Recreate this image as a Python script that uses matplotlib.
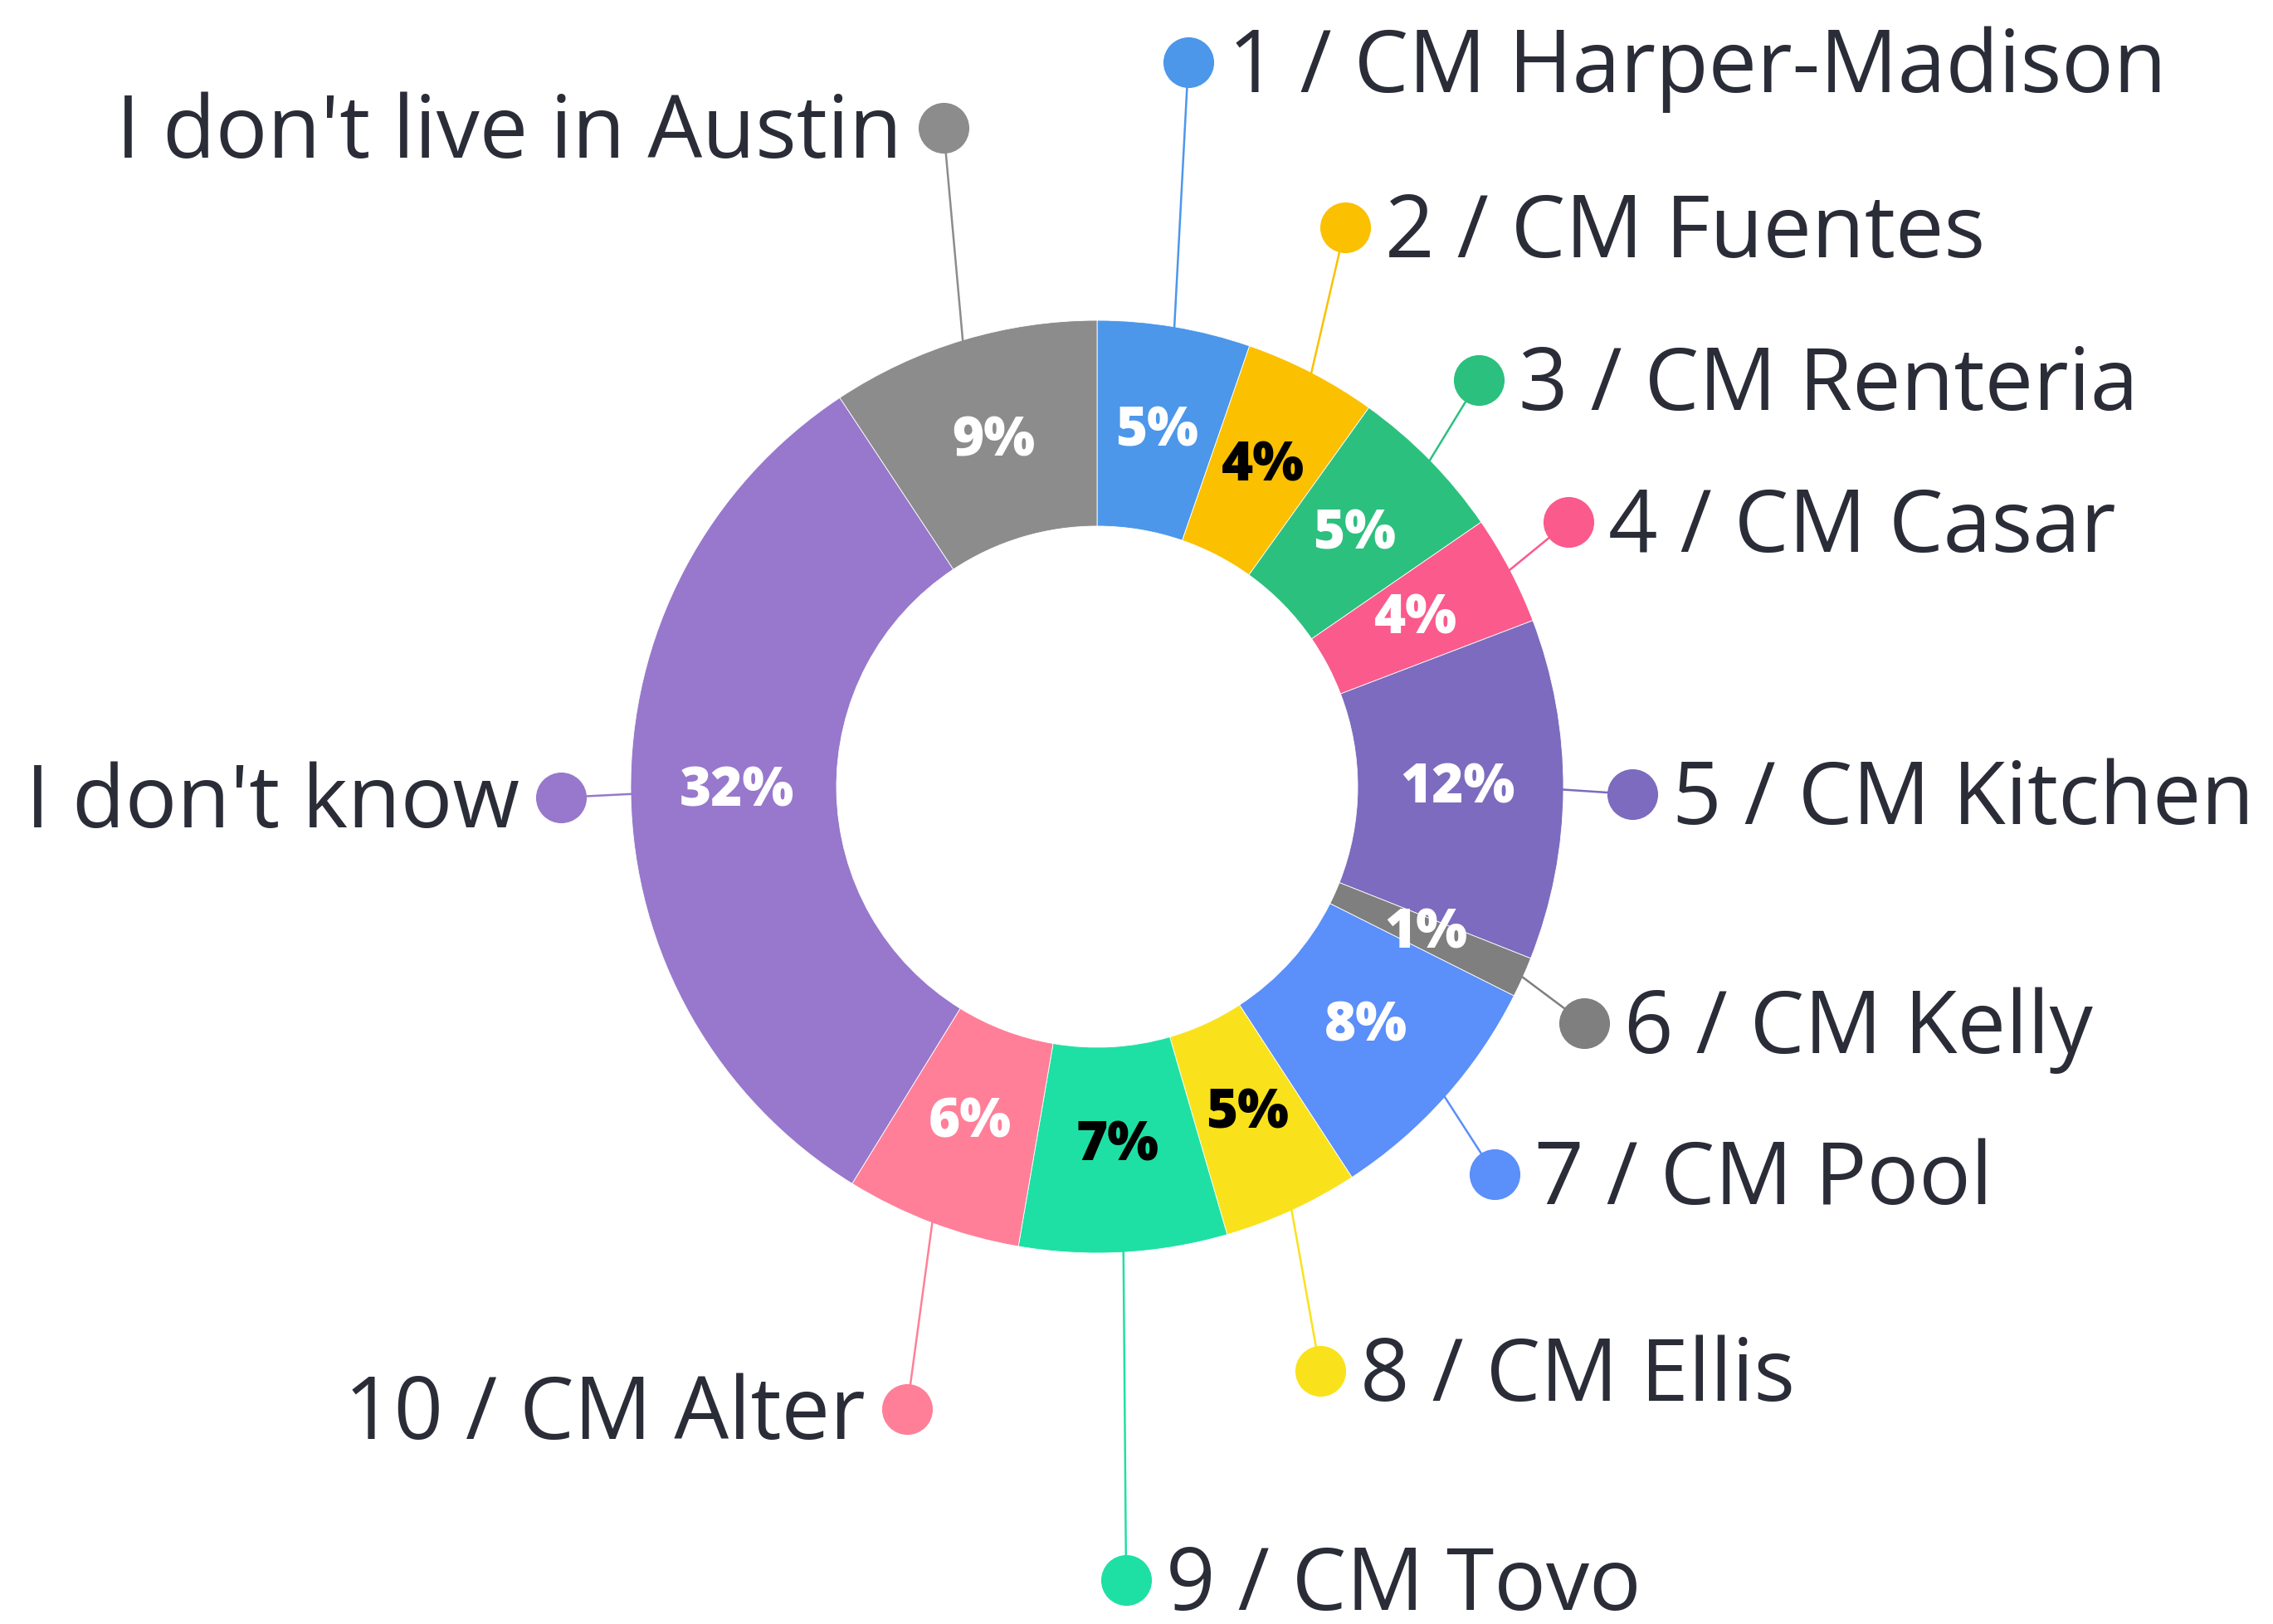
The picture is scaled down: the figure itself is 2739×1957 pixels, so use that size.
import numpy as np
import matplotlib
matplotlib.use("Agg")
import matplotlib.pyplot as plt

# slice data, clockwise from 12 o'clock
labels = ["1 / CM Harper-Madison", "2 / CM Fuentes", "3 / CM Renteria",
          "4 / CM Casar", "5 / CM Kitchen", "6 / CM Kelly", "7 / CM Pool",
          "8 / CM Ellis", "9 / CM Tovo", "10 / CM Alter", "I don't know",
          "I don't live in Austin"]
shares = [5.3, 4.6, 5.5, 3.8, 11.8, 1.4, 8.4, 4.7, 7.2, 6.1, 31.9, 9.3]
pct_labels = ["5%", "4%", "5%", "4%", "12%", "1%", "8%", "5%", "7%", "6%",
              "32%", "9%"]
colors = ["#4C97EA", "#FBC000", "#2CC07E", "#FA5A8C", "#7D6BBF", "#7F7F7F",
          "#5B8FF9", "#F9E21B", "#1FE0A4", "#FF7F98", "#9778CC", "#8C8C8C"]
pct_colors = ["white", "black", "white", "white", "white", "white", "white",
              "black", "black", "white", "white", "white"]

W, H = 2739, 1957
CX, CY = 1322, 948          # donut centre, pixels from top-left
R_OUT, R_IN = 562, 314

# label dot positions (pixels from top-left) and which side the text goes
dots = [(1432, 75), (1621, 274), (1782, 458), (1890, 629), (1967, 957),
        (1909, 1233), (1801, 1415), (1591, 1652), (1357, 1904), (1093, 1698),
        (676, 961), (1137, 154)]
sides = ["r"] * 9 + ["l"] * 3

TXT = "#2A2D37"
FONT = "Open Sans"


def fy(y):
    return H - y


fig = plt.figure(figsize=(W / 100, H / 100), dpi=100)
ax = fig.add_axes([0, 0, 1, 1])

wedges, _ = ax.pie(shares, colors=colors, startangle=90, counterclock=False,
                   center=(CX, fy(CY)), radius=R_OUT, frame=True,
                   wedgeprops=dict(width=R_OUT - R_IN, edgecolor="white",
                                   linewidth=0.6))
ax.set_xlim(0, W)
ax.set_ylim(0, H)
ax.set_aspect("equal")
ax.axis("off")

r_mid = (R_OUT + R_IN) / 2 - 4
for w, lab, pct, pc, (dx, dy), side, col in zip(wedges, labels, pct_labels,
                                                 pct_colors, dots, sides, colors):
    ang = np.radians((w.theta1 + w.theta2) / 2)
    # percent inside ring
    ax.text(CX + r_mid * np.cos(ang), fy(CY) + r_mid * np.sin(ang), pct,
            color=pc, fontsize=47, fontweight="heavy", family=FONT,
            ha="center", va="center")
    # leader line from outer edge to the dot
    x0 = CX + R_OUT * np.cos(ang)
    y0 = fy(CY) + R_OUT * np.sin(ang)
    ax.plot([x0, dx], [y0, fy(dy)], color=col, lw=1.8, zorder=3)
    ax.plot(dx, fy(dy), "o", color=col, markersize=44, zorder=4,
            markeredgewidth=0)
    if side == "r":
        ax.text(dx + 48, fy(dy) - 36, lab, color=TXT, fontsize=75,
                family=FONT, ha="left", va="baseline")
    else:
        ax.text(dx - 50, fy(dy) - 36, lab, color=TXT, fontsize=75,
                family=FONT, ha="right", va="baseline")

fig.savefig("out.png", dpi=100, facecolor="white")
